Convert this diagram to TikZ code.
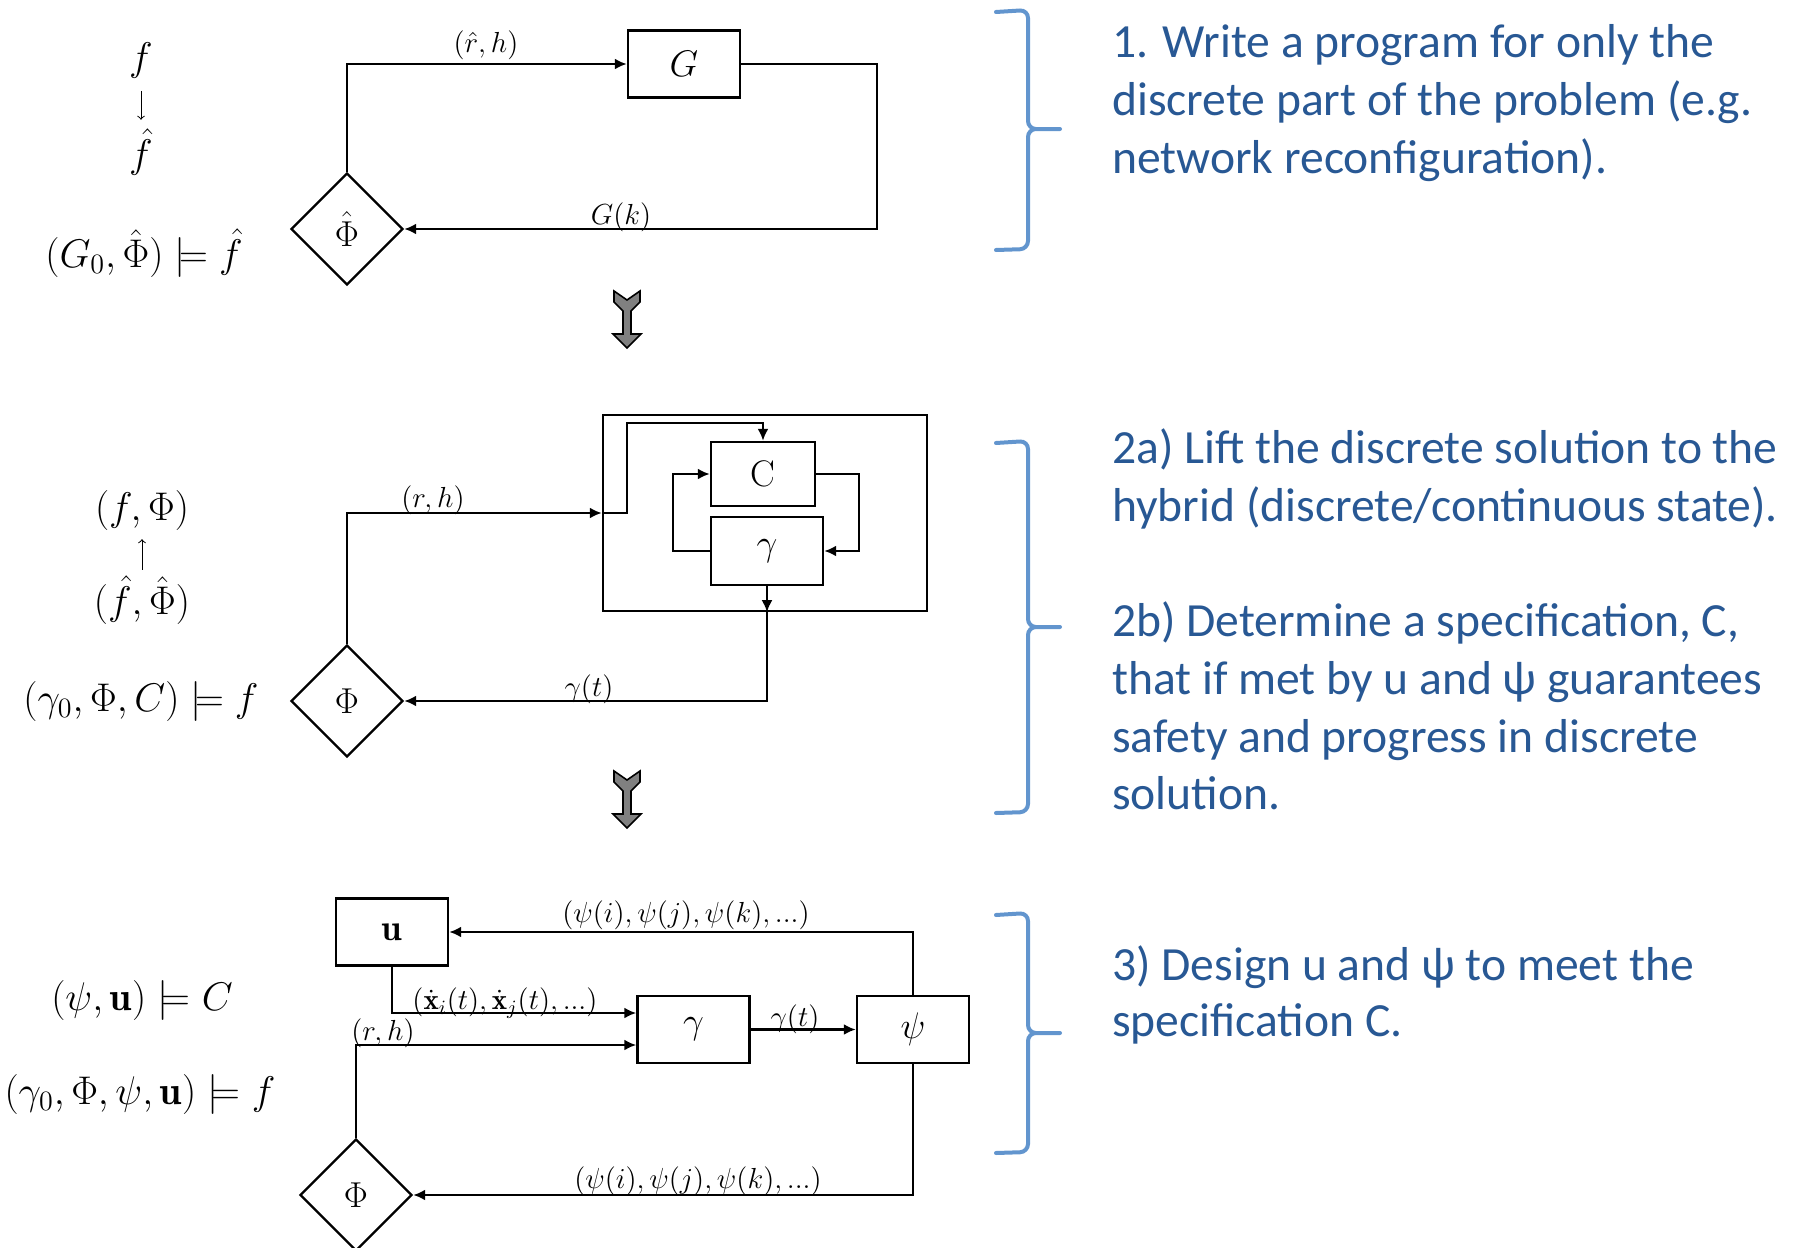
\RequirePackage{fix-cm}
\documentclass[tikz,border=0pt]{standalone}
\usepackage{amsmath,amssymb}
\usepackage{fontspec}
\newfontfamily\notefont{Carlito}
\usepackage{xcolor}
\usepackage{tikz}
\usetikzlibrary{shapes.geometric,arrows.meta}
\definecolor{notetext}{RGB}{40,88,148}
\definecolor{notebrace}{RGB}{98,149,206}

\begin{document}
\begin{tikzpicture}[x=0.5pt, y=-0.5pt, line width=1.2pt, >={Latex[length=6pt,width=5.5pt]},
  box/.style={draw, minimum width=56pt, minimum height=33.5pt, inner sep=0pt, font=\fontsize{18.5}{20}\selectfont},
  gate/.style={draw, diamond, aspect=1, minimum size=56pt, inner sep=0pt, font=\fontsize{18}{20}\selectfont},
  spec/.style={inner sep=0pt, font=\fontsize{20}{22}\selectfont},
  sig/.style={inner sep=0pt, font=\fontsize{14.5}{16}\selectfont},
  note/.style={anchor=base west, inner sep=0pt, text=notetext, font=\notefont\fontsize{23.8}{28.75}\selectfont},
  brace/.style={draw=notebrace, line width=2pt, line cap=round, rounded corners=4pt}]
\useasboundingbox (0,0) rectangle (1801,1248);

% step 1: discrete loop
\node[spec] (f) at (141,60) {$f$};
\node[spec] (fh) at (141,152) {$\hat f$};
\draw[-to, line width=0.5pt, shorten <=6pt, shorten >=4pt] (f) -- (fh);
\node[spec] (spec1) at (144,253) {$(G_0,\hat\Phi)\models\hat f$};
\node[gate] (phi1) at (347,229) {$\hat\Phi$};
\node[box] (G) at (684,64) {$G$};
\coordinate (gk) at (877,229);
\draw[->] (phi1.north) |- (G.west);
\node[sig] at (486,45) {$(\hat r,h)$};
\draw[->] (G.east) -| (gk) -- (phi1.east);
\node[sig] at (621,217) {$G(k)$};

% step 2: hybrid loop
\node[spec] (fphi) at (142,510) {$(f,\Phi)$};
\node[spec] (fhphi) at (142,600) {$(\hat f,\hat\Phi)$};
\draw[-to, line width=0.5pt, shorten <=2.5pt, shorten >=4pt] (fhphi) -- (fphi);
\node[spec] (spec2) at (141,701) {$(\gamma_0,\Phi,C)\models f$};
\node[gate] (phi2) at (347,701) {$\Phi$};
\node[draw, minimum width=162pt, minimum height=98pt] (hyb) at (765,513) {};
\node[box, minimum width=52pt, minimum height=32pt] (C) at (763,474) {$\mathrm{C}$};
\node[box, minimum height=34pt] (gam1) at (767,551) {$\gamma$};
\coordinate (hin) at (627,513);
\coordinate (ctop) at (763,423);
\draw[->] (phi2.north) |- (hyb.west);
\node[sig] at (433,500) {$(r,h)$};
\draw[->] (hyb.west) -- (hin) |- (ctop) -- (C.north);
\draw[->] (C.east) -- ++(43,0) |- (gam1.east);
\draw[->] (gam1.west) -- ++(-37,0) |- (C.west);
\draw[->] (gam1.south) -- (gam1.south |- hyb.south);
\draw[->] (gam1.south |- hyb.south) |- (phi2.east);
\node[sig] at (589,689) {$\gamma(t)$};

% step 3: continuous loop
\node[spec] (spec3) at (142,1000) {$(\psi,\mathbf{u})\models C$};
\node[spec] (spec4) at (140,1094) {$(\gamma_0,\Phi,\psi,\mathbf{u})\models f$};
\node[box] (u) at (392,932) {$\mathbf{u}$};
\node[box] (gam2) at (693.5,1029.5) {$\gamma$};
\node[box] (psi) at (913,1029.5) {$\psi$};
\node[gate] (phi3) at (356,1195) {$\Phi$};
\draw[->] (psi.north) |- (u.east);
\node[sig] at (686,915) {$(\psi(i),\psi(j),\psi(k),...)$};
\draw[->] (u.south) |- ([yshift=8.25pt]gam2.west);
\node[sig] at (505,1003) {$(\dot{\mathbf{x}}_i(t),\dot{\mathbf{x}}_j(t),...)$};
\draw[->] (phi3.north) |- ([yshift=-7.75pt]gam2.west);
\node[sig] at (383,1033) {$(r,h)$};
\draw[->] (gam2.east) -- (psi.west);
\node[sig] at (795,1019) {$\gamma(t)$};
\draw[->] (psi.south) |- (phi3.east);
\node[sig] at (698,1181) {$(\psi(i),\psi(j),\psi(k),...)$};

% big arrows between the steps
\foreach \ya in {291,771}
  \draw[line width=0.8pt, fill=gray] (614,\ya) -- (627,\ya+9) -- (640,\ya) -- (640,\ya+11)
    -- (631,\ya+20) -- (631,\ya+43) -- (641,\ya+43) -- (627,\ya+57) -- (613,\ya+43)
    -- (623,\ya+43) -- (623,\ya+20) -- (614,\ya+11) -- cycle;

% braces
\foreach \ya/\yb/\yc in {10/129/249, 441/627/812, 913/1033/1152}
  \draw[brace] (996,\ya+2) -- (1028,\ya) -- (1028,\yb) -- (1060,\yb)
    (1060,\yb) -- (1028,\yb) -- (1028,\yc) -- (996,\yc+1);

% notes
\node[note] (n1a) at (1111,57) {1. Write a program for only the};
\node[note] (n1b) at (1111,115) {discrete part of the problem (e.g.};
\node[note] (n1c) at (1111,173) {network reconfiguration).};
\node[note] (n2a) at (1111,463) {2a) Lift the discrete solution to the};
\node[note] (n2b) at (1111,521) {hybrid (discrete/continuous state).};
\node[note] (n2c) at (1111,636) {2b) Determine a specification, C,};
\node[note] (n2d) at (1111,694) {that if met by u and ψ guarantees};
\node[note] (n2e) at (1111,752) {safety and progress in discrete};
\node[note] (n2f) at (1111,809) {solution.};
\node[note] (n3a) at (1111,980) {3) Design u and ψ to meet the};
\node[note] (n3b) at (1111,1036) {specification C.};
\end{tikzpicture}
\end{document}
